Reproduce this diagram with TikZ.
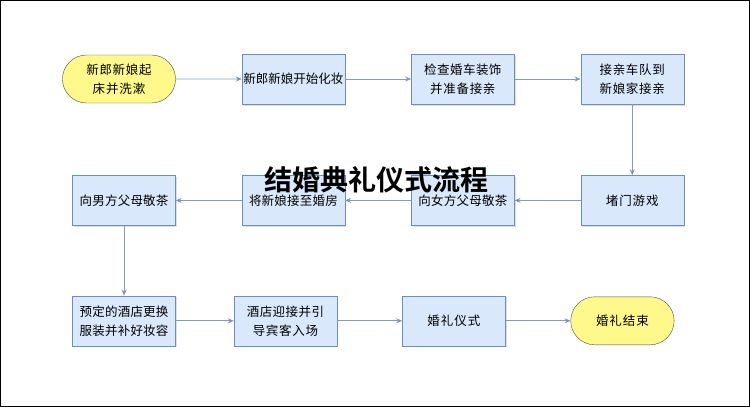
\documentclass[tikz,border=0pt]{standalone}
\usepackage{fontspec}
\setmainfont{Noto Sans CJK SC}
\newfontfamily\titlefont{Noto Sans CJK SC Bold}
\XeTeXlinebreaklocale "zh"
\XeTeXlinebreakskip=0pt plus 1pt
\usetikzlibrary{arrows.meta,positioning,shadows,shapes.misc}
\definecolor{boxfill}{HTML}{DAE8FC}
\definecolor{boxline}{HTML}{6C8EBF}
\definecolor{endfill}{HTML}{FFF88A}
\definecolor{arrowc}{HTML}{7F9BC6}
\tikzset{
  stepbox/.style={rectangle,draw=boxline,fill=boxfill,minimum width=103pt,minimum height=50pt,
    text width=100pt,align=center,font=\fontsize{12.5}{19}\selectfont,inner sep=1pt,
    drop shadow={shadow xshift=1.5pt,shadow yshift=-1.5pt,fill=black!25}},
  endbox/.style={rounded rectangle,draw=black!70,fill=endfill,minimum width=102pt,minimum height=48pt,
    text width=100pt,align=center,font=\fontsize{12.5}{19}\selectfont,inner sep=1pt},
  flow/.style={-{Stealth[length=6pt,width=5pt]},draw=arrowc,line width=0.8pt}
}
\begin{document}
\begin{tikzpicture}[x=1pt,y=-1pt,node distance=66pt]
  \draw[black,line width=0.8pt] (0.5,0.5) rectangle (749.5,406.5);
  \useasboundingbox (0,0) rectangle (750,407);

  \node[endbox] (wake) at (119,79) {新郎新娘起床并洗漱};
  \node[stepbox] (makeup) [right=of wake] {新郎新娘开始化妆};
  \node[stepbox] (car) [right=of makeup] {检查婚车装饰并准备接亲};
  \node[stepbox] (fleet) [right=of car] {接亲车队到新娘家接亲};

  \node[stepbox] (game) [below=71pt of fleet] {堵门游戏};
  \node[stepbox] (brtea) [left=of game] {向女方父母敬茶};
  \node[stepbox] (room) [left=of brtea] {将新娘接至婚房};
  \node[stepbox] (grtea) [left=of room] {向男方父母敬茶};

  \node[stepbox] (hotel) [below=70pt of grtea] {预定的酒店更换服装并补好妆容};
  \node[stepbox] (guest) [right=58pt of hotel] {酒店迎接并引导宾客入场};
  \node[stepbox] (rite) [right=65pt of guest] {婚礼仪式};
  \node[endbox] (finish) [right=65pt of rite] {婚礼结束};

  \path[flow] (wake) edge (makeup) (makeup) edge (car) (car) edge (fleet)
    (fleet) edge (game) (game) edge (brtea) (brtea) edge (room) (room) edge (grtea)
    (grtea) edge (hotel) (hotel) edge (guest) (guest) edge (rite) (rite) edge (finish);

  \node[font=\titlefont\fontsize{28}{32}\selectfont,text=black] (title) at (376,180) {结婚典礼仪式流程};
\end{tikzpicture}
\end{document}
